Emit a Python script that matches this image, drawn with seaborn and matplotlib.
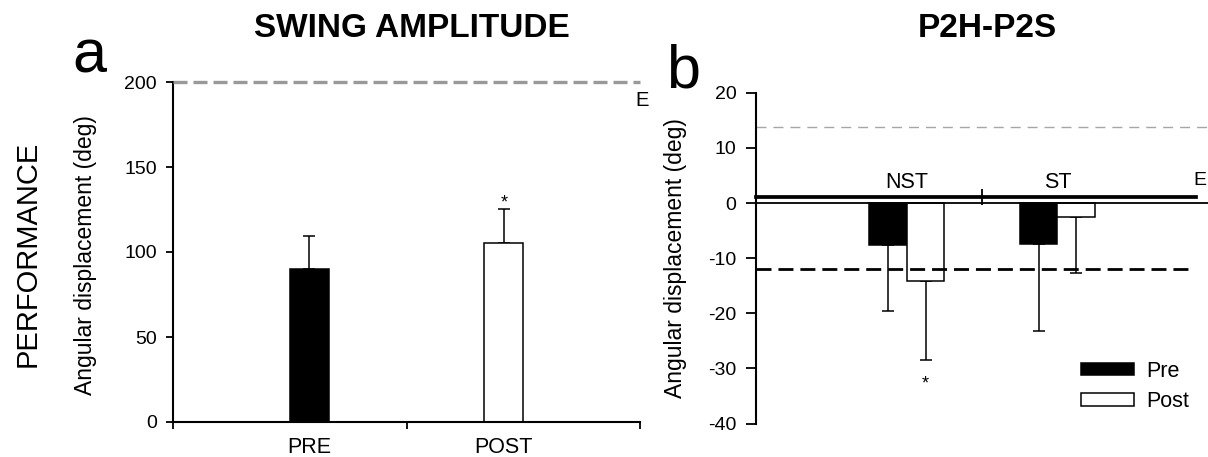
import matplotlib
matplotlib.use("Agg")
import matplotlib.pyplot as plt
from matplotlib.patches import Patch
import numpy as np
import pandas as pd
import seaborn as sns

# ---- data -------------------------------------------------------------
swing_labels = ["PRE", "POST"]
swing_mean = [90.0, 105.5]
swing_sd = [19.5, 20.0]
swing_elite = 200.0

p2h_groups = ["NST", "ST"]
p2h_times = ["Pre", "Post"]
p2h_pre = [-7.6, -7.4]
p2h_pre_sd = [11.9, 15.9]
p2h_post = [-14.1, -2.5]
p2h_post_sd = [14.3, 10.2]
p2h_upper_ref = 13.7
p2h_lower_ref = -11.9
p2h_axis_level = 1.0

# ---- style ------------------------------------------------------------
sns.set_style("ticks")
plt.rcParams["font.family"] = ["Liberation Sans", "DejaVu Sans"]
plt.rcParams["axes.unicode_minus"] = False
for key in ("text.color", "axes.labelcolor", "xtick.color", "ytick.color",
            "axes.edgecolor"):
    plt.rcParams[key] = "black"

W, H = 1208, 457
fig = plt.figure(figsize=(W / 100, H / 100), dpi=100)
ax_a = fig.add_axes([173 / W, (H - 422) / H, 467 / W, 340 / H])
ax_b = fig.add_axes([756 / W, (H - 423.6) / H, 452 / W, 330.9 / H])

bar_colors = ["black", "white"]

# ---- panel a: swing amplitude ----------------------------------------
df_a = pd.DataFrame({"phase": swing_labels, "amp": swing_mean})
sns.barplot(data=df_a, x="phase", y="amp", hue="phase", palette=bar_colors,
            edgecolor="black", linewidth=1.1, width=0.2, dodge=False,
            errorbar=None, legend=False, ax=ax_a, zorder=2)
bars_a = sorted(ax_a.patches, key=lambda p: p.get_x())
xs_a = [b.get_x() + b.get_width() / 2 for b in bars_a]
ax_a.errorbar(xs_a, swing_mean, yerr=[np.zeros(len(swing_sd)), swing_sd],
              fmt="none", ecolor="black", elinewidth=1.1, capsize=4,
              capthick=1.1, zorder=1)
ax_a.annotate("*", (xs_a[1], swing_mean[1] + swing_sd[1]), xytext=(0, 1),
              textcoords="offset points", ha="center", va="baseline",
              fontsize=13)
ax_a.axhline(swing_elite, color="#999999", lw=2.4, dashes=(4.2, 1.8),
             clip_on=False, zorder=3)
ax_a.text(1.675, 195, "E", ha="left", va="top", fontsize=14.5)

ax_a.set_xlim(-0.7, 1.7)
ax_a.set_ylim(0, 200)
ax_a.set_yticks([0, 50, 100, 150, 200])
ax_a.set_xticks([-0.7, 0.5, 1.7], ["", "", ""])
ax_a.set_xticks([0, 1], swing_labels, minor=True)
ax_a.tick_params(axis="x", which="major", length=5, width=1.3, direction="out")
ax_a.tick_params(axis="x", which="minor", length=0, pad=11, labelsize=15.5)
ax_a.tick_params(axis="y", length=5, width=1.3, pad=6.5, labelsize=14)
ax_a.set_xlabel("")
ax_a.set_ylabel("Angular displacement (deg)", fontsize=16.5)
ax_a.yaxis.set_label_coords(-0.163, 0.49)
for side in ("top", "right"):
    ax_a.spines[side].set_visible(False)
for side in ("left", "bottom"):
    ax_a.spines[side].set_linewidth(1.5)

# ---- panel b: P2H-P2S -------------------------------------------------
df_b = pd.DataFrame({
    "group": p2h_groups * 2,
    "time": [p2h_times[0]] * len(p2h_groups) + [p2h_times[1]] * len(p2h_groups),
    "disp": p2h_pre + p2h_post,
})
sns.barplot(data=df_b, x="group", y="disp", hue="time", hue_order=p2h_times,
            palette=bar_colors, edgecolor="black", linewidth=1.1, width=0.5,
            errorbar=None, legend=False, ax=ax_b, zorder=2)
for cont, means, sds in zip(ax_b.containers, [p2h_pre, p2h_post],
                            [p2h_pre_sd, p2h_post_sd]):
    xs = [b.get_x() + b.get_width() / 2 for b in cont]
    ax_b.errorbar(xs, means, yerr=[sds, np.zeros(len(sds))], fmt="none",
                  ecolor="black", elinewidth=1.1, capsize=4.3, capthick=1.1,
                  zorder=1)
post_bars = list(ax_b.containers[1])
x_star = post_bars[0].get_x() + post_bars[0].get_width() / 2
ax_b.annotate("*", (x_star, p2h_post[0] - p2h_post_sd[0]), xytext=(0, -21),
              textcoords="offset points", ha="center", va="baseline",
              fontsize=13)

ax_b.axhline(0, color="black", lw=1.3, zorder=3)
ax_b.axhline(p2h_upper_ref, color="#a6a6a6", lw=1.0, dashes=(7.2, 5))
ax_b.hlines(p2h_lower_ref, -1, 1.88, color="black", lw=2.0,
            linestyles=(0, (5.4, 2.5)), zorder=4)
ax_b.text(1.905, 5.6, "E", ha="left", va="top", fontsize=14)

ax_b.set_xlim(-1, 2)
ax_b.set_ylim(-40, 20)
ax_b.set_yticks(np.arange(-40, 21, 10))
ax_b.spines["bottom"].set_visible(False)
ax_b.spines["right"].set_visible(False)
ax_b.spines["left"].set_linewidth(1.5)
ax_b.spines["top"].set_position(("data", p2h_axis_level))
ax_b.spines["top"].set_bounds(-1, 1.92)
ax_b.spines["top"].set_linewidth(2.7)
ax_b.xaxis.set_ticks_position("top")
ax_b.set_xticks([0.5], [""])
ax_b.set_xticks([0, 1], p2h_groups, minor=True)
ax_b.tick_params(axis="x", which="both", top=True, labeltop=True,
                 bottom=False, labelbottom=False)
ax_b.tick_params(axis="x", which="major", direction="inout", length=11,
                 width=1.3)
ax_b.tick_params(axis="x", which="minor", length=0, pad=3, labelsize=15.5)
ax_b.tick_params(axis="y", length=7, width=1.3, pad=7, labelsize=14)
ax_b.set_xlabel("")
ax_b.set_ylabel("Angular displacement (deg)", fontsize=16.5)
ax_b.yaxis.set_label_coords(-0.153, 0.50)

handles = [Patch(facecolor="black", edgecolor="black", lw=1.1),
           Patch(facecolor="white", edgecolor="black", lw=1.1)]
fig.legend(handles, p2h_times, loc="upper left",
           bbox_to_anchor=(1081 / W, 1 - 361 / H), frameon=False,
           fontsize=15.5, handlelength=2.45, handleheight=0.5,
           handletextpad=0.6, labelspacing=0.42, borderpad=0,
           borderaxespad=0)

# ---- titles and panel letters ------------------------------------------
fig.text(412 / W, 1 - 37 / H, "SWING AMPLITUDE", ha="center",
         va="baseline", fontsize=24, fontweight="bold")
fig.text(987 / W, 1 - 37 / H, "P2H-P2S", ha="center", va="baseline",
         fontsize=24, fontweight="bold")
fig.text(72 / W, 1 - 72 / H, "a", ha="left", va="baseline", fontsize=44)
fig.text(666 / W, 1 - 88 / H, "b", ha="left", va="baseline", fontsize=44)
fig.text(28 / W, 1 - 254 / H, "PERFORMANCE", rotation=90, ha="center",
         va="center", fontsize=21)

fig.savefig("out.png", dpi=100)
